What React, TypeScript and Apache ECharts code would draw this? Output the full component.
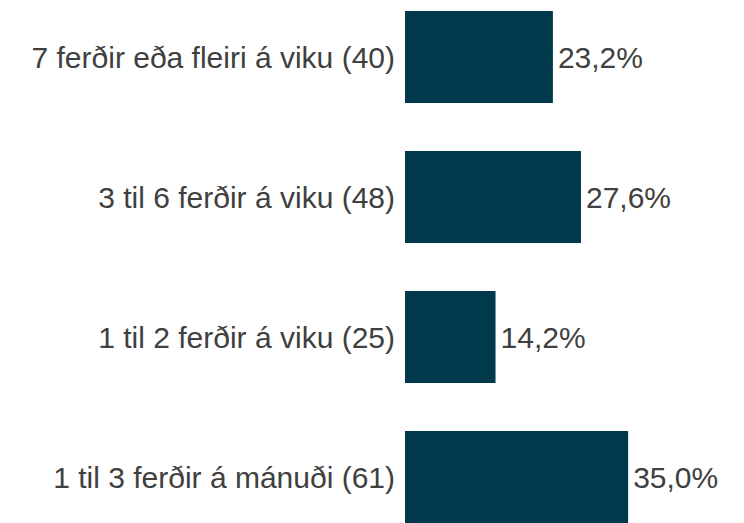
import React, { useEffect, useRef } from "react";
import * as echarts from "echarts";

const categories = [
  "7 ferðir eða fleiri á viku (40)",
  "3 til 6 ferðir á viku (48)",
  "1 til 2 ferðir á viku (25)",
  "1 til 3 ferðir á mánuði (61)",
];
const values = [23.2, 27.6, 14.2, 35.0];

export default function App() {
  const ref = useRef<HTMLDivElement>(null);
  useEffect(() => {
    if (!ref.current) return;
    const chart = echarts.init(ref.current, null, { renderer: "svg" });
    chart.setOption({
      animation: false,
      backgroundColor: "#ffffff",
      grid: { left: 405, right: 84, top: 0, bottom: 0, containLabel: false },
      xAxis: {
        type: "value",
        min: 0,
        max: 40,
        show: false,
      },
      yAxis: {
        type: "category",
        data: categories,
        inverse: true,
        axisLine: { show: false },
        axisTick: { show: false },
        splitLine: { show: false },
        axisLabel: {
          margin: 10,
          color: "#404040",
          fontFamily: "Liberation Sans, Arial, sans-serif",
          fontSize: 30,
        },
      },
      series: [
        {
          type: "bar",
          data: values,
          barWidth: 92,
          itemStyle: { color: "#00384C" },
          label: {
            show: true,
            position: "right",
            distance: 5,
            color: "#404040",
            fontFamily: "Liberation Sans, Arial, sans-serif",
            fontSize: 30,
            formatter: (p: any) => p.value.toFixed(1).replace(".", ",") + "%",
          },
        },
      ],
    });
    return () => chart.dispose();
  }, []);
  return (
    <div
      ref={ref}
      style={{ position: "fixed", left: 0, top: -13, width: 744, height: 560 }}
    />
  );
}
